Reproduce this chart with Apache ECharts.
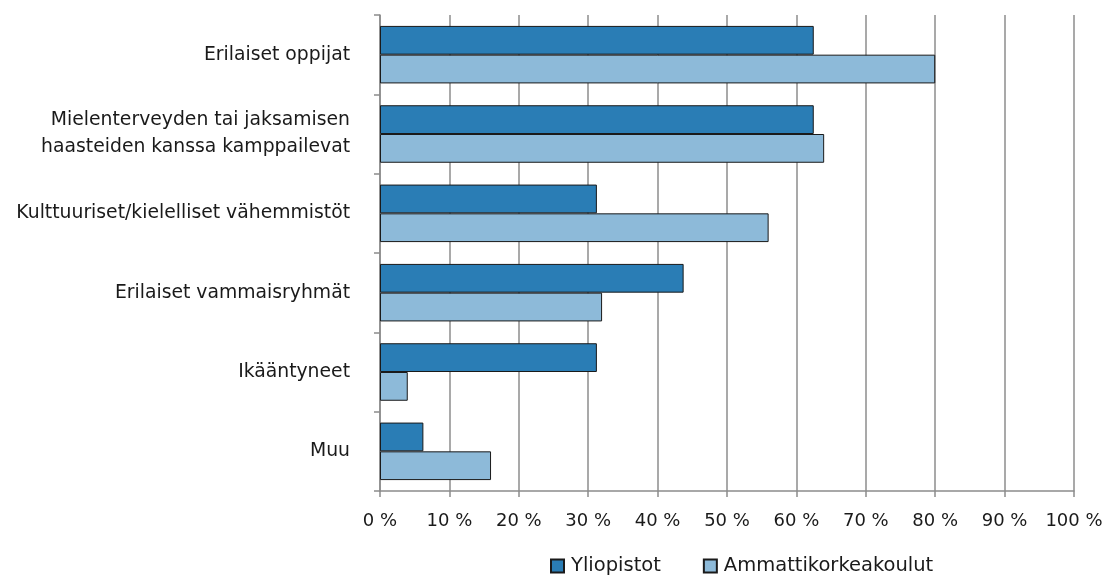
<!DOCTYPE html>
<html>
<head>
<meta charset="utf-8">
<script src="https://cdn.jsdelivr.net/npm/echarts@6/dist/echarts.min.js"></script>
<style>html,body{margin:0;padding:0;background:#fff}#c{width:1110px;height:576px}</style>
</head>
<body>
<div id="c"></div>
<script>
const categories = ["Erilaiset oppijat", "Mielenterveyden tai jaksamisen\nhaasteiden kanssa kamppailevat", "Kulttuuriset/kielelliset vähemmistöt", "Erilaiset vammaisryhmät", "Ikääntyneet", "Muu"];
const yliopistot = [62.5, 62.5, 31.25, 43.75, 31.25, 6.25];
const ammattikorkeakoulut = [80, 64, 56, 32, 4, 16];
const seriesNames = ["Yliopistot", "Ammattikorkeakoulut"];

const chart = echarts.init(document.getElementById('c'), null, {renderer: 'canvas'});
const font = 'DejaVu Sans, Liberation Sans, Arial, sans-serif';
chart.setOption({
  animation: false,
  textStyle: {fontFamily: font},
  grid: {left: 380, right: 36, top: 15, bottom: 85, containLabel: false},
  xAxis: {
    type: 'value', min: 0, max: 100, interval: 10,
    axisLine: {show: true, lineStyle: {color: '#8c8c8c', width: 1.5}},
    axisTick: {show: true, length: 6, lineStyle: {color: '#8c8c8c', width: 1.5}},
    splitLine: {show: true, lineStyle: {color: '#8c8c8c', width: 1.5}},
    axisLabel: {formatter: '{value} %', color: '#1a1a1a', fontSize: 18, margin: 21, fontFamily: font}
  },
  yAxis: {
    type: 'category', data: categories, inverse: true,
    axisLine: {show: true, lineStyle: {color: '#8c8c8c', width: 1.5}},
    axisTick: {show: true, length: 6, lineStyle: {color: '#8c8c8c', width: 1.5}},
    axisLabel: {color: '#1a1a1a', fontSize: 18.8, margin: 30, lineHeight: 27, align: 'right', fontFamily: font}
  },
  legend: {
    top: 551, left: 545, itemWidth: 13, itemHeight: 13, itemGap: 42, icon: 'rect',
    textStyle: {fontSize: 19.5, color: '#1a1a1a', fontFamily: font, padding: [0, 0, 0, 2]},
    data: seriesNames
  },
  series: [
    {name: seriesNames[0], type: 'bar', data: yliopistot, barGap: '0%', barCategoryGap: '27.5%',
     itemStyle: {color: '#2a7db5', borderColor: '#1a1a1a', borderWidth: 1}},
    {name: seriesNames[1], type: 'bar', data: ammattikorkeakoulut, barGap: '0%', barCategoryGap: '27.5%',
     itemStyle: {color: '#8dbad9', borderColor: '#1a1a1a', borderWidth: 1}}
  ]
});
</script>
</body>
</html>
